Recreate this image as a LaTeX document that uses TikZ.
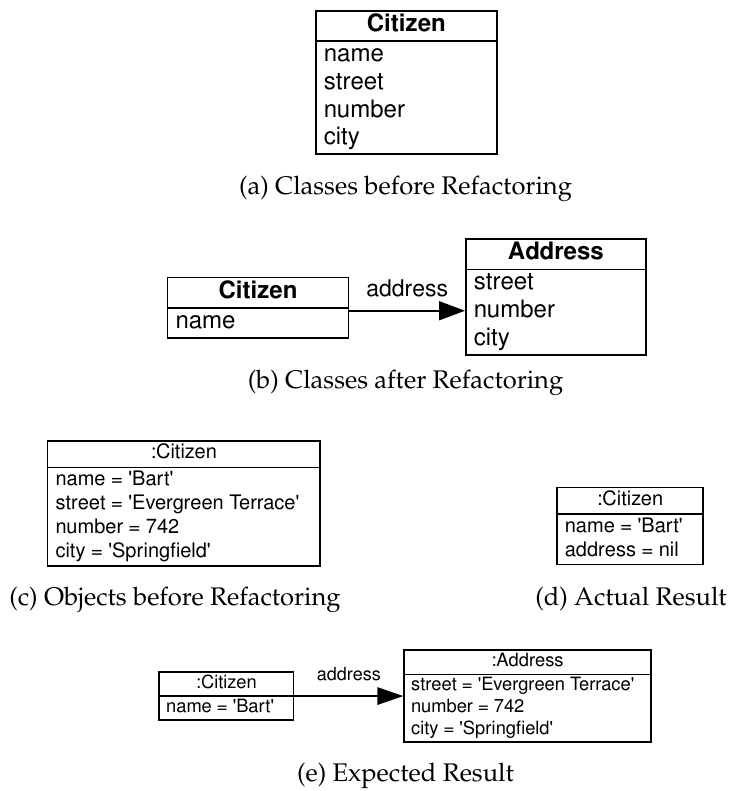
\documentclass[tikz,border=0pt]{standalone}
\usepackage[T1]{fontenc}
\usepackage{mathpazo}
\usepackage{helvet}
\usepackage{textcomp}
\usetikzlibrary{shapes.multipart}
\usetikzlibrary{arrows.meta}
\newcommand{\q}[1]{\textquotesingle#1\textquotesingle}
\tikzstyle{uml box}=[draw, line width=1.7pt, anchor=north west, rectangle split, rectangle split parts=2, rectangle split part align={center,left}, align=left, inner ysep=0.4pt, inner xsep=8pt]
\tikzstyle{class box}=[uml box, font=\sffamily\fontsize{24}{27.7}\selectfont]
\tikzstyle{object box}=[uml box, font=\sffamily\fontsize{20}{24}\selectfont]
\tikzstyle{small object box}=[uml box, inner xsep=7pt, font=\sffamily\fontsize{18.3}{21.7}\selectfont]
\tikzstyle{association}=[line width=1.5pt, -{Triangle[length=26pt, width=19pt]}]
\tikzstyle{small association}=[line width=1.5pt, -{Triangle[length=26pt, width=17.5pt]}]
\tikzstyle{caption}=[anchor=base, inner sep=0pt, font=\rmfamily\fontsize{25.5}{30}\selectfont]

\begin{document}
\begin{tikzpicture}[x=1pt, y=-1pt]
  \useasboundingbox (0, 0) rectangle (729, 791);

  % (a) classes before
  \node[class box, minimum width=181pt] (citA) at (315, 10)
    {\strut\textbf{Citizen}
     \nodepart{two}\strut name\\ \strut street\\ \strut number\\ \strut city};
  \node[caption] (capA) at (405.5, 195) {(a) Classes before Refactoring};

  % (b) classes after
  \node[class box, minimum width=181pt] (citB) at (166.7, 276.7)
    {\strut\textbf{Citizen}
     \nodepart{two}\strut name};
  \node[class box, minimum width=180pt] (addrB) at (465, 238.3)
    {\strut\textbf{Address}
     \nodepart{two}\strut street\\ \strut number\\ \strut city};
  \draw[association] ([yshift=-3pt]citB.text split east)
    -- node[midway, above=10pt, font=\sffamily\fontsize{23}{27}\selectfont] {address}
    ([yshift=-3pt]citB.text split east -| addrB.west);
  \node[caption] (capB) at (405.5, 388) {(b) Classes after Refactoring};

  % (c) objects before
  \node[object box, minimum width=272.3pt] (citC) at (46.7, 440)
    {\strut :Citizen
     \nodepart{two}\strut name = \q{Bart}\\ \strut street = \q{Evergreen Terrace}\\
     \strut number = 742\\ \strut city = \q{Springfield}};
  \node[caption] (capC) at (175, 605) {(c) Objects before Refactoring};

  % (d) actual result
  \node[object box, minimum width=146.3pt] (citD) at (556, 486.7)
    {\strut :Citizen
     \nodepart{two}\strut name = \q{Bart}\\ \strut address = nil};
  \node[caption] (capD) at (631, 605) {(d) Actual Result};

  % (e) expected result
  \node[small object box, minimum width=134.4pt] (citE) at (158.3, 671)
    {\strut :Citizen
     \nodepart{two}\strut name = \q{Bart}};
  \node[small object box, minimum width=246.7pt] (addrE) at (403.3, 649.3)
    {\strut :Address
     \nodepart{two}\strut street = \q{Evergreen Terrace}\\ \strut number = 742\\
     \strut city = \q{Springfield}};
  \draw[small association] (citE.text split east)
    -- node[midway, above=11pt, font=\sffamily\fontsize{18}{21}\selectfont] {address}
    (citE.text split east -| addrE.west);
  \node[caption] (capE) at (405.5, 781) {(e) Expected Result};
\end{tikzpicture}
\end{document}
